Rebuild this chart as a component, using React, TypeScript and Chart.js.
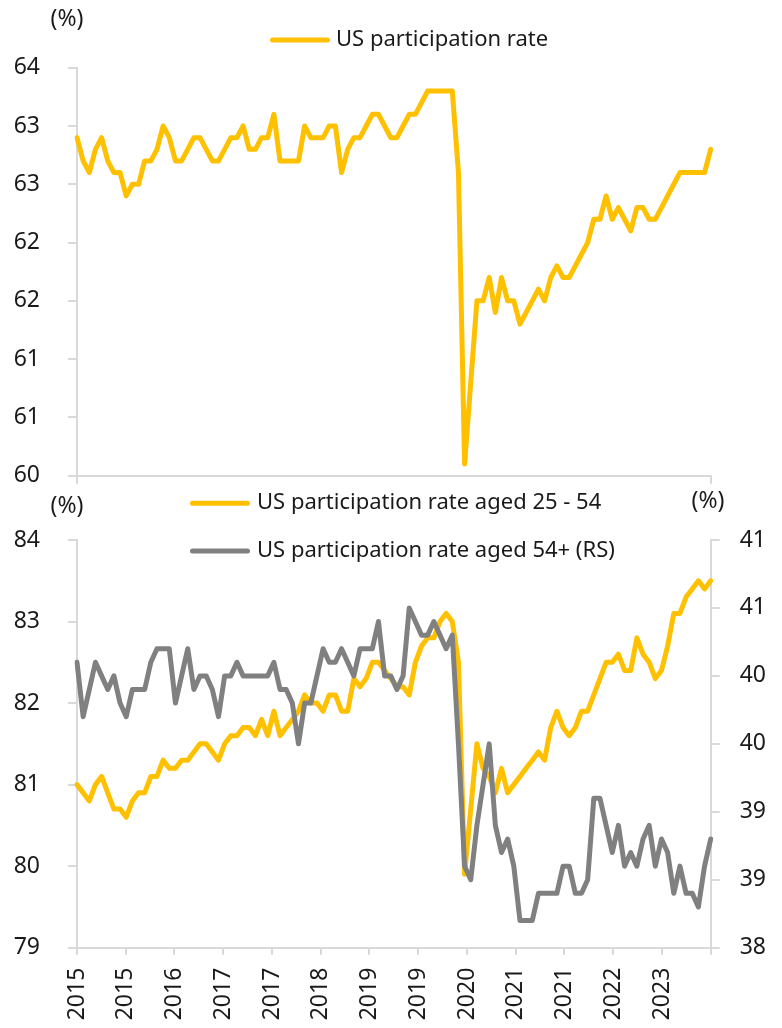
import React, { useEffect, useRef } from 'react';
import { Chart, registerables } from 'chart.js';

Chart.register(...registerables);

// ---------- data ----------
const START_YEAR = 2015;
const MONTH_COUNT = 104; // Jan 2015 .. Aug 2023
const MONTHS: string[] = Array.from({ length: MONTH_COUNT }, (_, i) => {
  const y = START_YEAR + Math.floor(i / 12);
  const m = (i % 12) + 1;
  return `${y}-${String(m).padStart(2, '0')}`;
});

const X_TICK_LABELS = ['2015', '2015', '2016', '2017', '2017', '2018', '2019', '2019', '2020', '2021', '2021', '2022', '2023', ''];

const TOP_LABEL = 'US participation rate';
const PRIME_LABEL = 'US participation rate aged 25 - 54';
const OLDER_LABEL = 'US participation rate aged 54+ (RS)';

const US_RATE = [
  62.9, 62.7, 62.6, 62.8, 62.9, 62.7, 62.6, 62.6, 62.4, 62.5, 62.5, 62.7,
  62.7, 62.8, 63.0, 62.9, 62.7, 62.7, 62.8, 62.9, 62.9, 62.8, 62.7, 62.7,
  62.8, 62.9, 62.9, 63.0, 62.8, 62.8, 62.9, 62.9, 63.1, 62.7, 62.7, 62.7,
  62.7, 63.0, 62.9, 62.9, 62.9, 63.0, 63.0, 62.6, 62.8, 62.9, 62.9, 63.0,
  63.1, 63.1, 63.0, 62.9, 62.9, 63.0, 63.1, 63.1, 63.2, 63.3, 63.3, 63.3,
  63.3, 63.3, 62.6, 60.1, 60.8, 61.5, 61.5, 61.7, 61.4, 61.7, 61.5, 61.5,
  61.3, 61.4, 61.5, 61.6, 61.5, 61.7, 61.8, 61.7, 61.7, 61.8, 61.9, 62.0,
  62.2, 62.2, 62.4, 62.2, 62.3, 62.2, 62.1, 62.3, 62.3, 62.2, 62.2, 62.3,
  62.4, 62.5, 62.6, 62.6, 62.6, 62.6, 62.6, 62.8,
];

const PRIME_AGE = [
  81.0, 80.9, 80.8, 81.0, 81.1, 80.9, 80.7, 80.7, 80.6, 80.8, 80.9, 80.9,
  81.1, 81.1, 81.3, 81.2, 81.2, 81.3, 81.3, 81.4, 81.5, 81.5, 81.4, 81.3,
  81.5, 81.6, 81.6, 81.7, 81.7, 81.6, 81.8, 81.6, 81.9, 81.6, 81.7, 81.8,
  81.9, 82.1, 82.0, 82.0, 81.9, 82.1, 82.1, 81.9, 81.9, 82.3, 82.2, 82.3,
  82.5, 82.5, 82.4, 82.3, 82.2, 82.2, 82.1, 82.5, 82.7, 82.8, 82.8, 83.0,
  83.1, 83.0, 82.5, 79.9, 80.7, 81.5, 81.2, 81.1, 80.9, 81.2, 80.9, 81.0,
  81.1, 81.2, 81.3, 81.4, 81.3, 81.7, 81.9, 81.7, 81.6, 81.7, 81.9, 81.9,
  82.1, 82.3, 82.5, 82.5, 82.6, 82.4, 82.4, 82.8, 82.6, 82.5, 82.3, 82.4,
  82.7, 83.1, 83.1, 83.3, 83.4, 83.5, 83.4, 83.5,
];

const OLDER = [
  40.1, 39.7, 39.9, 40.1, 40.0, 39.9, 40.0, 39.8, 39.7, 39.9, 39.9, 39.9,
  40.1, 40.2, 40.2, 40.2, 39.8, 40.0, 40.2, 39.9, 40.0, 40.0, 39.9, 39.7,
  40.0, 40.0, 40.1, 40.0, 40.0, 40.0, 40.0, 40.0, 40.1, 39.9, 39.9, 39.8,
  39.5, 39.8, 39.8, 40.0, 40.2, 40.1, 40.1, 40.2, 40.1, 40.0, 40.2, 40.2,
  40.2, 40.4, 40.0, 40.0, 39.9, 40.0, 40.5, 40.4, 40.3, 40.3, 40.4, 40.3,
  40.2, 40.3, 39.5, 38.6, 38.5, 38.9, 39.2, 39.5, 38.9, 38.7, 38.8, 38.6,
  38.2, 38.2, 38.2, 38.4, 38.4, 38.4, 38.4, 38.6, 38.6, 38.4, 38.4, 38.5,
  39.1, 39.1, 38.9, 38.7, 38.9, 38.6, 38.7, 38.6, 38.8, 38.9, 38.6, 38.8,
  38.7, 38.4, 38.6, 38.4, 38.4, 38.3, 38.6, 38.8,
];

const TOP_Y = { min: 60, max: 63.5, step: 0.5 };
const LEFT_Y = { min: 79, max: 84, step: 1 };
const RIGHT_Y = { min: 38, max: 41, step: 0.5 };

// ---------- style ----------
const YELLOW = '#FFC000';
const GREY = '#808080';
const AXIS = '#D9D9D9';
const TEXT = '#1A1A1A';
const FAMILY = '"Noto Sans", "DejaVu Sans", sans-serif';
const TICK_FONT = { family: FAMILY, size: 23 };
const LEGEND_PX = 22;
const UNIT_PX = 23;

const W = 782;
const TOP_H = 490;
const BOT_H = 538;

function placeXTicks(scale: any) {
  const last = MONTHS.length - 1;
  const steps = X_TICK_LABELS.length - 1;
  scale.ticks = X_TICK_LABELS.map((_, k) => ({ value: (k * last) / steps }));
}

const roundLabel = (v: any) => String(Math.round(Number(v)));

function axisGrid(tickLength: number) {
  return { drawOnChartArea: false, drawTicks: true, tickLength, color: AXIS, lineWidth: 2 };
}
const axisBorder = { display: true, color: AXIS, width: 2 };

function fixYWidth(width: number) {
  return (s: any) => {
    s.width = width;
    s.paddingTop = 0;
    s.paddingBottom = 0;
  };
}

function lineDataset(label: string, data: number[], color: string, extra: any = {}) {
  return {
    label,
    data,
    borderColor: color,
    backgroundColor: color,
    borderWidth: 5,
    pointRadius: 0,
    pointHoverRadius: 0,
    tension: 0,
    fill: false,
    borderJoinStyle: 'round',
    borderCapStyle: 'round',
    ...extra,
  };
}

function drawLegendEntry(ctx: CanvasRenderingContext2D, color: string, text: string, x0: number, x1: number, y: number, tx: number) {
  ctx.strokeStyle = color;
  ctx.lineWidth = 5;
  ctx.lineCap = 'round';
  ctx.beginPath();
  ctx.moveTo(x0, y);
  ctx.lineTo(x1, y);
  ctx.stroke();
  ctx.fillStyle = TEXT;
  ctx.font = `${LEGEND_PX}px ${FAMILY}`;
  ctx.textAlign = 'left';
  ctx.textBaseline = 'alphabetic';
  ctx.fillText(text, tx, y + 5.5);
}

function drawUnit(ctx: CanvasRenderingContext2D, x: number, baseline: number) {
  ctx.fillStyle = TEXT;
  ctx.font = `${UNIT_PX}px ${FAMILY}`;
  ctx.textAlign = 'center';
  ctx.textBaseline = 'alphabetic';
  ctx.fillText('(%)', x, baseline);
}

const topOverlay = {
  id: 'topOverlay',
  afterDraw(chart: any) {
    const ctx = chart.ctx as CanvasRenderingContext2D;
    ctx.save();
    drawUnit(ctx, 67, 26);
    const ds = chart.data.datasets[0];
    drawLegendEntry(ctx, ds.borderColor, ds.label, 272.5, 327.5, 40, 336);
    ctx.restore();
  },
};

const bottomOverlay = {
  id: 'bottomOverlay',
  afterDraw(chart: any) {
    const ctx = chart.ctx as CanvasRenderingContext2D;
    ctx.save();
    drawUnit(ctx, 67, 22.5);
    drawUnit(ctx, 708, 18);
    const ds = chart.data.datasets;
    drawLegendEntry(ctx, ds[0].borderColor, ds[0].label, 192.5, 247.5, 13.3, 257);
    drawLegendEntry(ctx, ds[1].borderColor, ds[1].label, 192.5, 247.5, 61, 257);
    ctx.restore();
  },
};

function topConfig(): any {
  return {
    type: 'line',
    data: { labels: MONTHS, datasets: [lineDataset(TOP_LABEL, US_RATE, YELLOW)] },
    options: {
      animation: false,
      responsive: false,
      devicePixelRatio: 1,
      events: [],
      layout: { padding: { top: 67.7, right: 71.3, left: 0, bottom: 0 } },
      plugins: { legend: { display: false }, tooltip: { enabled: false }, title: { display: false } },
      scales: {
        x: {
          type: 'category',
          offset: false,
          grid: axisGrid(8),
          border: axisBorder,
          ticks: { display: false, autoSkip: false },
          afterBuildTicks: placeXTicks,
          afterFit: (s: any) => { s.height = TOP_H - 475.7; s.paddingLeft = 0; s.paddingRight = 0; },
        },
        y: {
          type: 'linear',
          min: TOP_Y.min,
          max: TOP_Y.max,
          grid: axisGrid(9),
          border: axisBorder,
          ticks: { stepSize: TOP_Y.step, callback: roundLabel, font: TICK_FONT, color: TEXT, padding: 28 },
          afterFit: fixYWidth(77),
        },
      },
    },
    plugins: [topOverlay],
  };
}

function bottomConfig(): any {
  return {
    type: 'line',
    data: {
      labels: MONTHS,
      datasets: [
        lineDataset(PRIME_LABEL, PRIME_AGE, YELLOW, { yAxisID: 'y', order: 1 }),
        lineDataset(OLDER_LABEL, OLDER, GREY, { yAxisID: 'y1', order: 0 }),
      ],
    },
    options: {
      animation: false,
      responsive: false,
      devicePixelRatio: 1,
      events: [],
      layout: { padding: { top: 540 - TOP_H, right: 0, left: 0, bottom: 0 } },
      plugins: { legend: { display: false }, tooltip: { enabled: false }, title: { display: false } },
      scales: {
        x: {
          type: 'category',
          offset: false,
          grid: axisGrid(7),
          border: axisBorder,
          ticks: {
            autoSkip: false,
            minRotation: 90,
            maxRotation: 90,
            padding: 13,
            font: TICK_FONT,
            color: TEXT,
            callback: (_v: any, i: number) => X_TICK_LABELS[i],
          },
          afterBuildTicks: placeXTicks,
          afterFit: (s: any) => { s.height = TOP_H + BOT_H - 947.7; s.paddingLeft = 0; s.paddingRight = 0; },
        },
        y: {
          type: 'linear',
          position: 'left',
          min: LEFT_Y.min,
          max: LEFT_Y.max,
          grid: axisGrid(9),
          border: axisBorder,
          ticks: { stepSize: LEFT_Y.step, callback: roundLabel, font: TICK_FONT, color: TEXT, padding: 28 },
          afterFit: fixYWidth(77),
        },
        y1: {
          type: 'linear',
          position: 'right',
          min: RIGHT_Y.min,
          max: RIGHT_Y.max,
          grid: axisGrid(9),
          border: axisBorder,
          ticks: { stepSize: RIGHT_Y.step, callback: roundLabel, font: TICK_FONT, color: TEXT, padding: 20 },
          afterFit: fixYWidth(W - 710.7),
        },
      },
    },
    plugins: [bottomOverlay],
  };
}

export default function App() {
  const topRef = useRef<HTMLCanvasElement>(null);
  const botRef = useRef<HTMLCanvasElement>(null);

  useEffect(() => {
    const top = new Chart(topRef.current as HTMLCanvasElement, topConfig());
    const bot = new Chart(botRef.current as HTMLCanvasElement, bottomConfig());
    let alive = true;
    const fonts: any = (document as any).fonts;
    if (fonts && fonts.load) {
      Promise.all([fonts.load(`23px ${FAMILY}`), fonts.load(`22px ${FAMILY}`)])
        .then(() => { if (alive) { top.update(); bot.update(); } })
        .catch(() => {});
    }
    return () => {
      alive = false;
      top.destroy();
      bot.destroy();
    };
  }, []);

  return (
    <div style={{ position: 'absolute', left: 0, top: 0, width: W, height: TOP_H + BOT_H, background: '#ffffff' }}>
      <canvas
        ref={topRef}
        width={W}
        height={TOP_H}
        style={{ position: 'absolute', left: 0, top: 0, width: W, height: TOP_H, display: 'block' }}
      />
      <canvas
        ref={botRef}
        width={W}
        height={BOT_H}
        style={{ position: 'absolute', left: 0, top: TOP_H, width: W, height: BOT_H, display: 'block' }}
      />
    </div>
  );
}
